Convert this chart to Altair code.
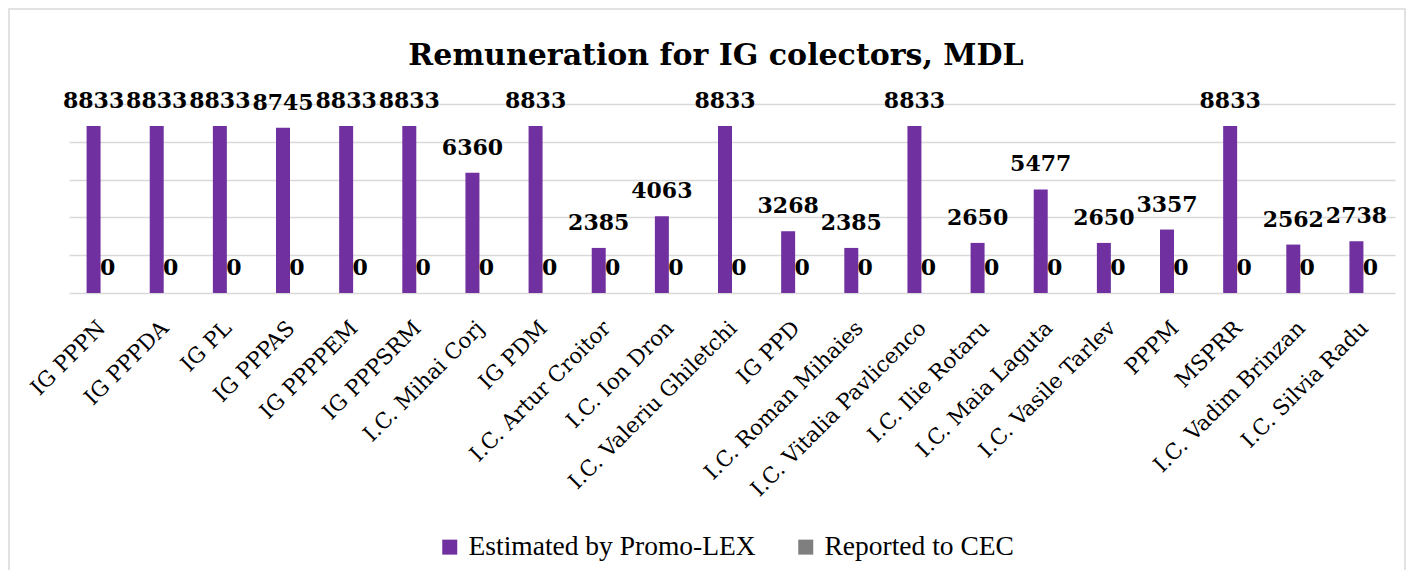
import altair as alt
import pandas as pd

categories = ["IG PPPN", "IG  PPPDA", "IG  PL", "IG  PPPAS", "IG  PPPPEM", "IG PPPSRM",
              "I.C. Mihai Corj", "IG  PDM", "I.C. Artur Croitor", "I.C. Ion Dron",
              "I.C. Valeriu Ghiletchi", "IG PPD", "I.C. Roman Mihaies",
              "I.C. Vitalia Pavlicenco", "I.C. Ilie Rotaru", "I.C. Maia Laguta",
              "I.C. Vasile Tarlev", "PPPM", "MSPRR", "I.C. Vadim Brinzan", "I.C. Silvia Radu"]
estimated = [8833, 8833, 8833, 8745, 8833, 8833, 6360, 8833, 2385, 4063, 8833,
             3268, 2385, 8833, 2650, 5477, 2650, 3357, 8833, 2562, 2738]
reported = [0, 0, 0, 0, 0, 0, 0, 0, 0, 0, 0, 0, 0, 0, 0, 0, 0, 0, 0, 0, 0]
series = ["Estimated by Promo-LEX", "Reported to CEC"]
colors = ["#7030A0", "#7F7F7F"]
y_ticks = [0, 2000, 4000, 6000, 8000, 10000]

rows = []
for c, e, r in zip(categories, estimated, reported):
    rows.append({"cat": c, "series": series[0], "value": e})
    rows.append({"cat": c, "series": series[1], "value": r})
df = pd.DataFrame(rows)

W, H = 1326, 189

x = alt.X("cat:N", sort=categories, title=None,
          scale=alt.Scale(paddingInner=0.557, paddingOuter=0.2785),
          axis=alt.Axis(labelAngle=-45, labelFont="DejaVu Serif", labelFontSize=21.5,
                        labelColor="#000000", ticks=False, domain=False,
                        labelPadding=24, labelOffset=-6, labelLimit=400))
xo = alt.XOffset("series:N", sort=series,
                 scale=alt.Scale(domain=series, paddingInner=0, paddingOuter=0))
y = alt.Y("value:Q", scale=alt.Scale(domain=[0, 10000]),
          axis=alt.Axis(values=y_ticks, labels=False, ticks=False, domain=False,
                        title=None, gridColor="#d9d9d9", gridWidth=1.5))
color = alt.Color("series:N", sort=series,
                  scale=alt.Scale(domain=series, range=colors),
                  legend=alt.Legend(orient="none", legendX=367, legendY=429,
                                    title=None, direction="horizontal",
                                    symbolType="square", symbolSize=225,
                                    symbolStrokeWidth=0,
                                    labelFont="Liberation Serif",
                                    labelFontSize=27.5, labelColor="#000000",
                                    labelLimit=500, columnPadding=36, labelOffset=5))

bars = alt.Chart(df).mark_bar().encode(x=x, xOffset=xo, y=y, color=color)
labels = alt.Chart(df).mark_text(baseline="alphabetic", dy=-18, font="DejaVu Serif",
                                 fontWeight="bold", fontSize=22, color="black").encode(
    x=x, xOffset=xo, y=y, text=alt.Text("value:Q", format="d"))

frame = alt.Chart(pd.DataFrame({"a": [0]})).mark_rect(
    fill=None, stroke="#d9d9d9", strokeWidth=1.5).encode(
    x=alt.value(-60), x2=alt.value(1336), y=alt.value(-95), y2=alt.value(490))

chart = alt.layer(frame, bars, labels).properties(
    width=W, height=H,
    title=alt.TitleParams("Remuneration for IG colectors, MDL", font="DejaVu Serif",
                          fontSize=30, fontWeight="bold", color="black",
                          anchor="middle", offset=-63, dx=-16),
    autosize=alt.AutoSizeParams(type="none"),
    padding={"left": 61, "top": 96, "right": 11, "bottom": 277},
).configure_view(stroke=None)

chart.save("out.html", embed_options={"renderer": "svg", "actions": False})
